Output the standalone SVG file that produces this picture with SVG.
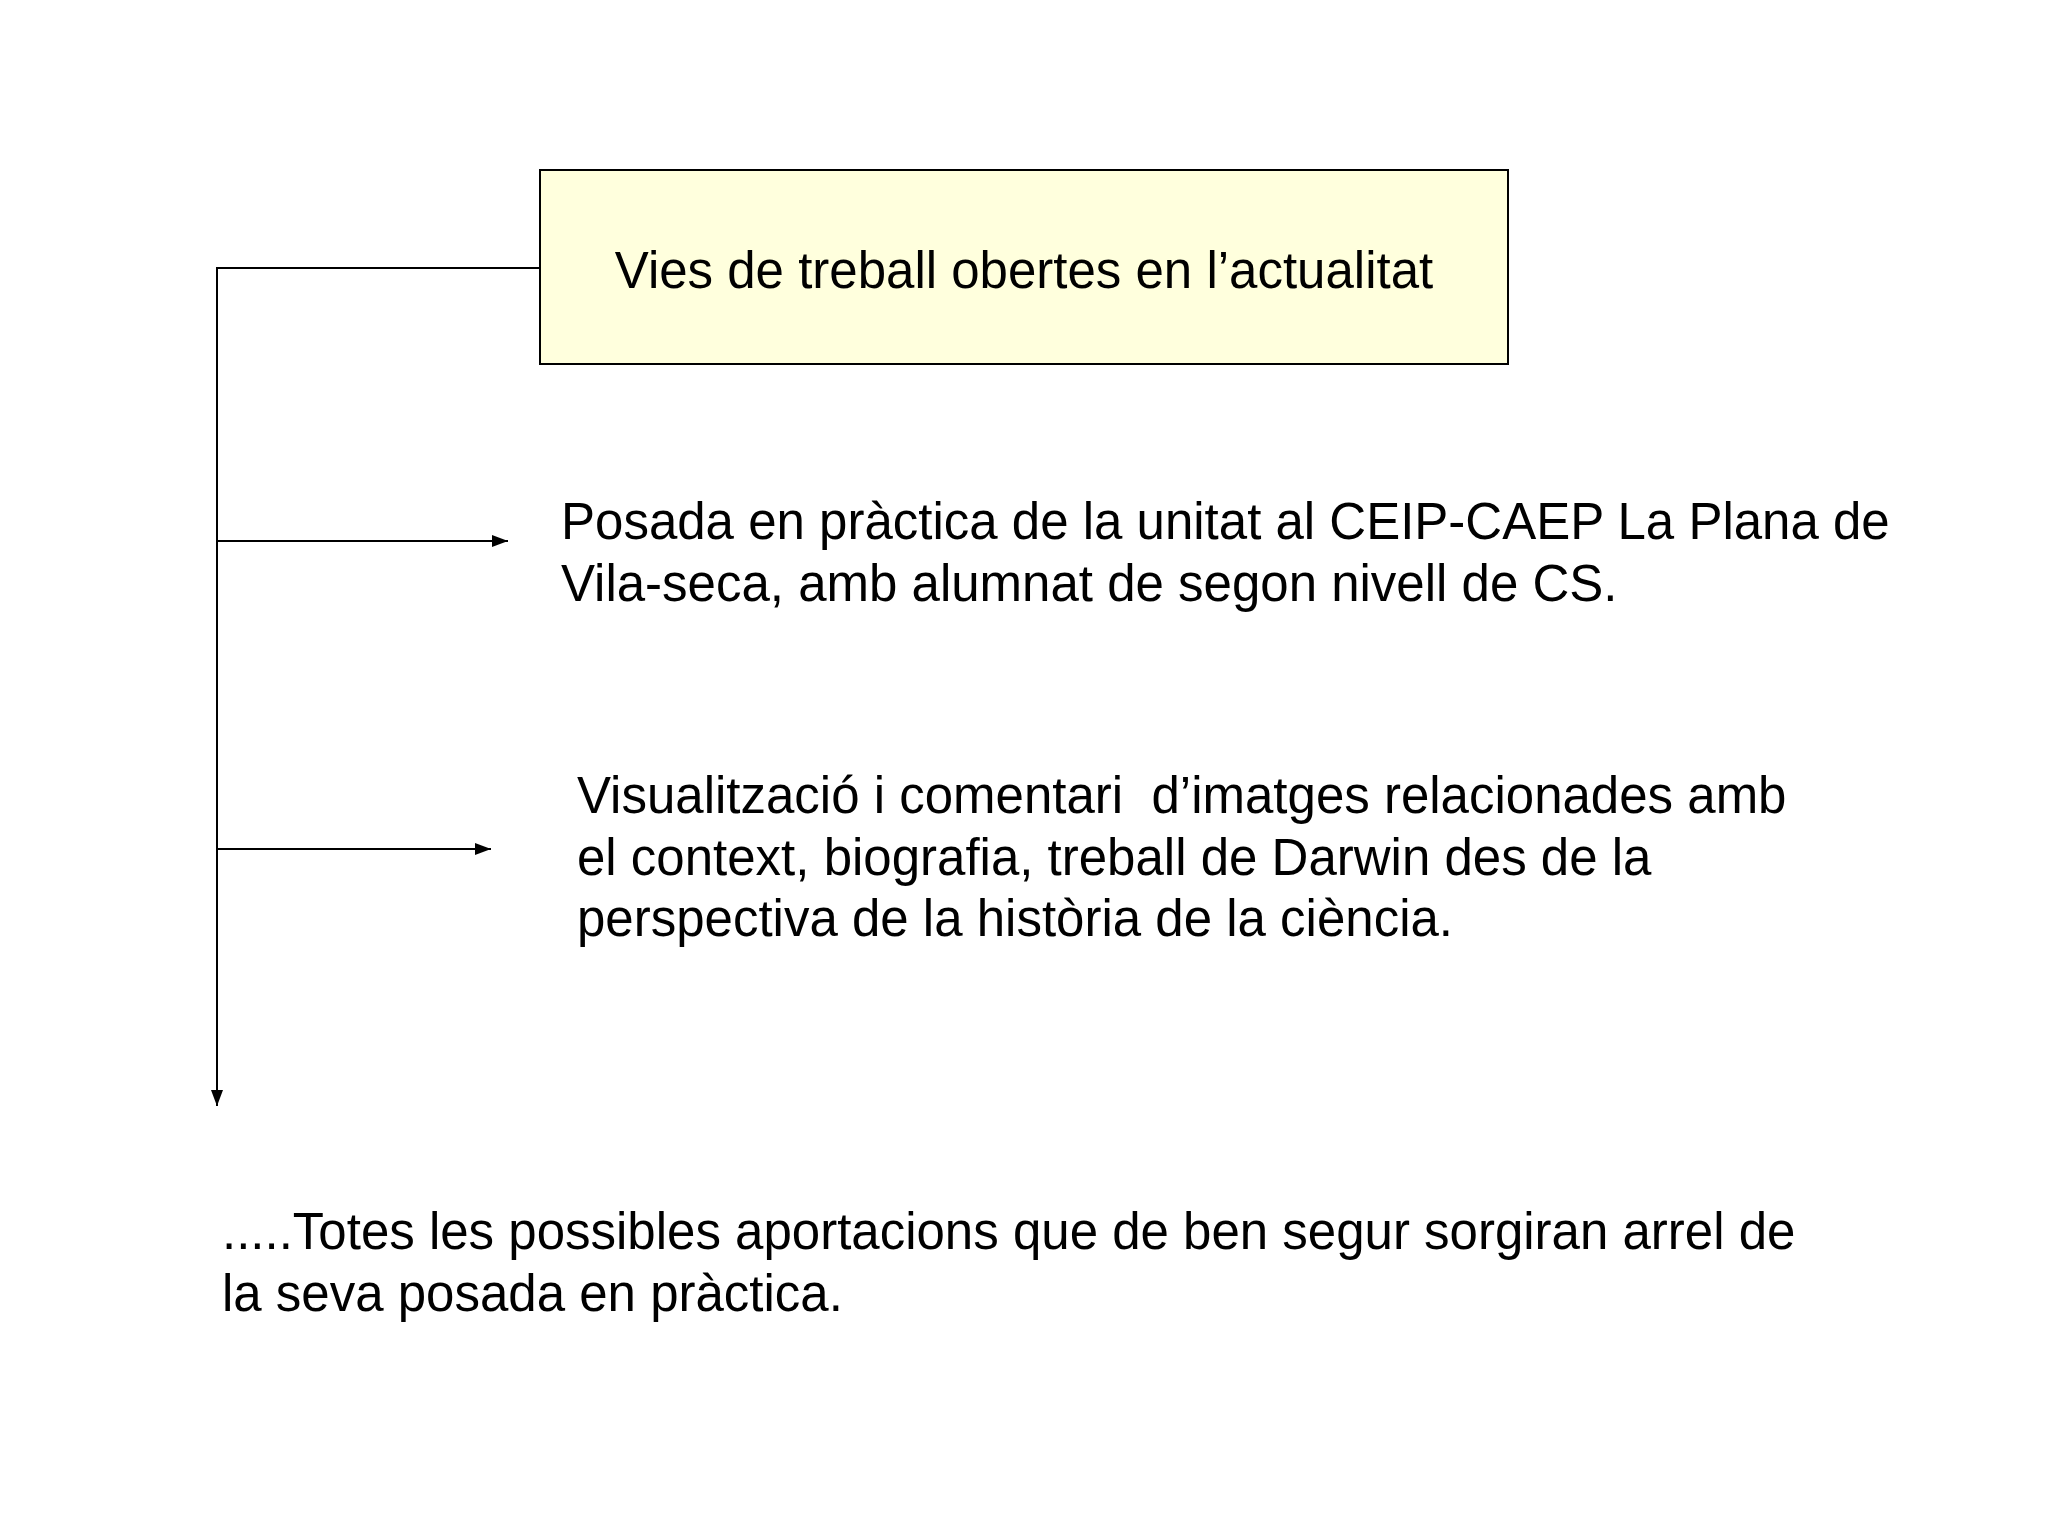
<svg xmlns="http://www.w3.org/2000/svg" width="2048" height="1536" viewBox="0 0 2048 1536">
<style>
text{font-family:"Liberation Sans",Arial,sans-serif;font-size:51px;fill:#000}
.c{stroke:#000;stroke-width:2;fill:none}
</style>
<defs>
<marker id="b" markerWidth="16" markerHeight="16" refX="16" refY="8" orient="auto" markerUnits="userSpaceOnUse" viewBox="0 0 16 16"><path d="M0,2L16,8L0,14z" fill="#000"/></marker></defs>
<rect width="2048" height="1536" fill="#fff"/>
<g id="title"><rect x="540" y="170" width="968" height="194" fill="#ffffdd" stroke="#000" stroke-width="2"/>
<text x="1024" y="288" text-anchor="middle">Vies de treball obertes en l’actualitat</text></g>
<g id="connectors">
<path class="c" d="M540,268H217V1106" marker-end="url(#b)"/>
<path class="c" d="M217,541H508" marker-end="url(#b)"/>
<path class="c" d="M217,849H491" marker-end="url(#b)"/>
</g>
<g id="item1"><text x="561" y="539">Posada en pràctica de la unitat al CEIP-CAEP La Plana de</text><text x="561" y="601">Vila-seca, amb alumnat de segon nivell de CS.</text></g>
<g id="item2"><text x="577" y="813" xml:space="preserve">Visualització i comentari  d’imatges relacionades amb</text><text x="577" y="875">el context, biografia, treball de Darwin des de la</text><text x="577" y="936">perspectiva de la història de la ciència.</text></g>
<g id="item3"><text x="222" y="1249">.....Totes les possibles aportacions que de ben segur sorgiran arrel de</text><text x="222" y="1311">la seva posada en pràctica.</text></g>
</svg>
